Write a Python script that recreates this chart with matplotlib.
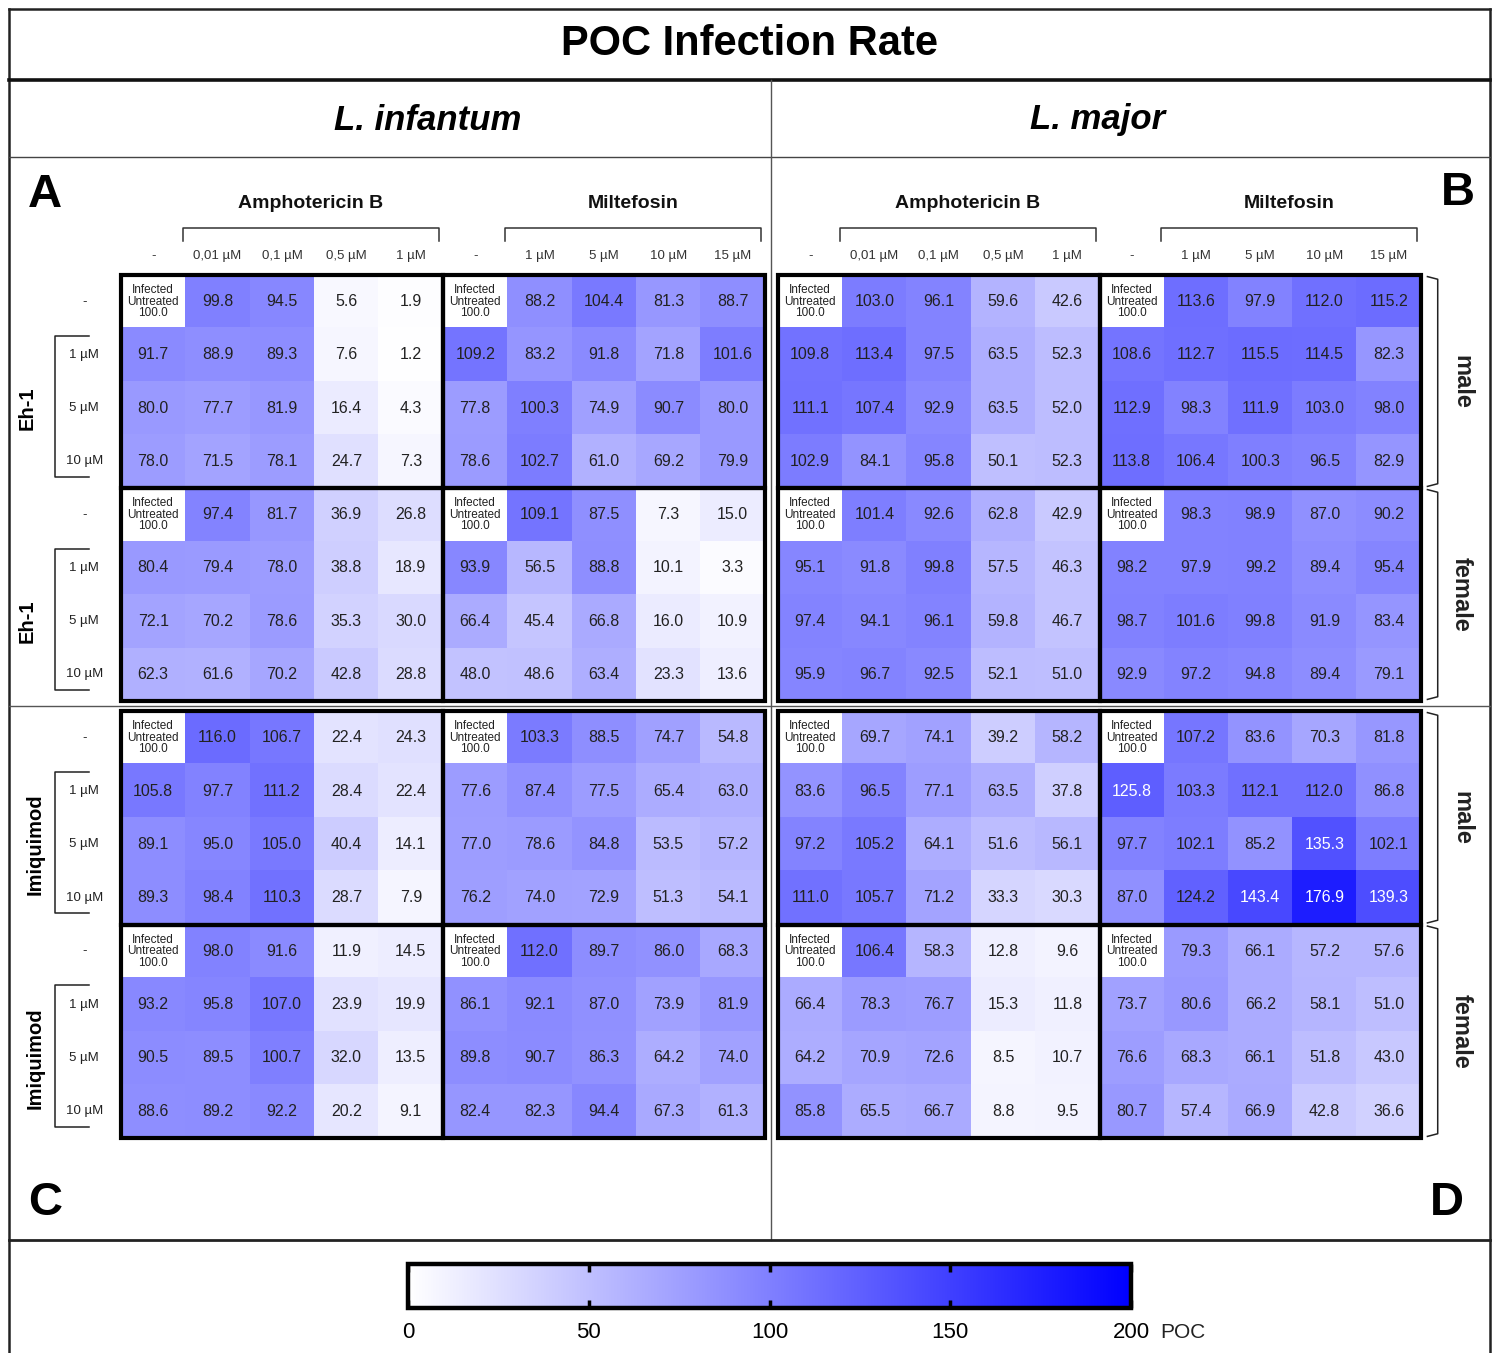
import numpy as np
import matplotlib
matplotlib.use("Agg")
import matplotlib.pyplot as plt
from matplotlib.colors import LinearSegmentedColormap, Normalize
from matplotlib.cm import ScalarMappable
from matplotlib.patches import Rectangle

plt.rcParams['font.family'] = ['Liberation Sans', 'DejaVu Sans']
NARROW = ['Liberation Sans Narrow', 'Liberation Sans']

# POC values, rows: -, 1 uM, 5 uM, 10 uM ; cols: Amphotericin B (5) + Miltefosin (5)
infantum_eh1_male = [
    [100.0, 99.8, 94.5, 5.6, 1.9, 100.0, 88.2, 104.4, 81.3, 88.7],
    [91.7, 88.9, 89.3, 7.6, 1.2, 109.2, 83.2, 91.8, 71.8, 101.6],
    [80.0, 77.7, 81.9, 16.4, 4.3, 77.8, 100.3, 74.9, 90.7, 80.0],
    [78.0, 71.5, 78.1, 24.7, 7.3, 78.6, 102.7, 61.0, 69.2, 79.9],
]
infantum_eh1_female = [
    [100.0, 97.4, 81.7, 36.9, 26.8, 100.0, 109.1, 87.5, 7.3, 15.0],
    [80.4, 79.4, 78.0, 38.8, 18.9, 93.9, 56.5, 88.8, 10.1, 3.3],
    [72.1, 70.2, 78.6, 35.3, 30.0, 66.4, 45.4, 66.8, 16.0, 10.9],
    [62.3, 61.6, 70.2, 42.8, 28.8, 48.0, 48.6, 63.4, 23.3, 13.6],
]
major_eh1_male = [
    [100.0, 103.0, 96.1, 59.6, 42.6, 100.0, 113.6, 97.9, 112.0, 115.2],
    [109.8, 113.4, 97.5, 63.5, 52.3, 108.6, 112.7, 115.5, 114.5, 82.3],
    [111.1, 107.4, 92.9, 63.5, 52.0, 112.9, 98.3, 111.9, 103.0, 98.0],
    [102.9, 84.1, 95.8, 50.1, 52.3, 113.8, 106.4, 100.3, 96.5, 82.9],
]
major_eh1_female = [
    [100.0, 101.4, 92.6, 62.8, 42.9, 100.0, 98.3, 98.9, 87.0, 90.2],
    [95.1, 91.8, 99.8, 57.5, 46.3, 98.2, 97.9, 99.2, 89.4, 95.4],
    [97.4, 94.1, 96.1, 59.8, 46.7, 98.7, 101.6, 99.8, 91.9, 83.4],
    [95.9, 96.7, 92.5, 52.1, 51.0, 92.9, 97.2, 94.8, 89.4, 79.1],
]
infantum_imq_male = [
    [100.0, 116.0, 106.7, 22.4, 24.3, 100.0, 103.3, 88.5, 74.7, 54.8],
    [105.8, 97.7, 111.2, 28.4, 22.4, 77.6, 87.4, 77.5, 65.4, 63.0],
    [89.1, 95.0, 105.0, 40.4, 14.1, 77.0, 78.6, 84.8, 53.5, 57.2],
    [89.3, 98.4, 110.3, 28.7, 7.9, 76.2, 74.0, 72.9, 51.3, 54.1],
]
infantum_imq_female = [
    [100.0, 98.0, 91.6, 11.9, 14.5, 100.0, 112.0, 89.7, 86.0, 68.3],
    [93.2, 95.8, 107.0, 23.9, 19.9, 86.1, 92.1, 87.0, 73.9, 81.9],
    [90.5, 89.5, 100.7, 32.0, 13.5, 89.8, 90.7, 86.3, 64.2, 74.0],
    [88.6, 89.2, 92.2, 20.2, 9.1, 82.4, 82.3, 94.4, 67.3, 61.3],
]
major_imq_male = [
    [100.0, 69.7, 74.1, 39.2, 58.2, 100.0, 107.2, 83.6, 70.3, 81.8],
    [83.6, 96.5, 77.1, 63.5, 37.8, 125.8, 103.3, 112.1, 112.0, 86.8],
    [97.2, 105.2, 64.1, 51.6, 56.1, 97.7, 102.1, 85.2, 135.3, 102.1],
    [111.0, 105.7, 71.2, 33.3, 30.3, 87.0, 124.2, 143.4, 176.9, 139.3],
]
major_imq_female = [
    [100.0, 106.4, 58.3, 12.8, 9.6, 100.0, 79.3, 66.1, 57.2, 57.6],
    [66.4, 78.3, 76.7, 15.3, 11.8, 73.7, 80.6, 66.2, 58.1, 51.0],
    [64.2, 70.9, 72.6, 8.5, 10.7, 76.6, 68.3, 66.1, 51.8, 43.0],
    [85.8, 65.5, 66.7, 8.8, 9.5, 80.7, 57.4, 66.9, 42.8, 36.6],
]

col_labels = ['-', '0,01 µM', '0,1 µM', '0,5 µM', '1 µM', '-', '1 µM', '5 µM', '10 µM', '15 µM']
row_labels = ['-', '1 µM', '5 µM', '10 µM']
drugs = ['Amphotericin B', 'Miltefosin']
cbar_ticks = [0, 50, 100, 150, 200]

W, H = 1496, 1353
cmap = LinearSegmentedColormap.from_list('poc', ['#ffffff', '#0000ff'])
cmap.set_bad('white')
norm = Normalize(0, 200)

fig = plt.figure(figsize=(W / 100, H / 100), dpi=100)
bg = fig.add_axes([0, 0, 1, 1])
bg.set_xlim(0, W)
bg.set_ylim(H, 0)
bg.axis('off')


def px_box(x0, y0, x1, y1):
    return [x0 / W, 1 - y1 / H, (x1 - x0) / W, (y1 - y0) / H]


# frame lines
bg.plot([9, 1490], [9, 9], color='#222', lw=1.8)
bg.plot([9, 9], [9, H], color='#222', lw=1.8)
bg.plot([1490, 1490], [9, H], color='#222', lw=1.8)
bg.plot([9, 1490], [80, 80], color='#111', lw=2.6)
bg.plot([9, 1490], [157, 157], color='#444', lw=1.0)
bg.plot([771, 771], [80, 1240], color='#555', lw=1.0)
bg.plot([9, 1490], [706, 706], color='#555', lw=1.0)
bg.plot([9, 1490], [1240, 1240], color='#222', lw=2.0)

bg.text(750, 44, 'POC Infection Rate', ha='center', va='center',
        fontsize=30, fontweight='bold')
bg.text(428, 120, 'L. infantum', ha='center', va='center',
        fontsize=25, fontweight='bold', style='italic')
bg.text(1098, 120, 'L. major', ha='center', va='center',
        fontsize=25, fontweight='bold', style='italic')

for letter, x, y in [('A', 45, 195), ('B', 1458, 193), ('C', 45, 1203), ('D', 1447, 1203)]:
    bg.text(x, y, letter, ha='center', va='center', fontsize=34, fontweight='bold')


def draw_panel(box, male, female, top=False, left_label=None, right_side=False):
    ax = fig.add_axes(px_box(*box))
    vals = np.vstack([male, female])
    ctrl = np.zeros(vals.shape, dtype=bool)
    ctrl[[0, 0, 4, 4], [0, 5, 0, 5]] = True
    ax.imshow(np.ma.masked_where(ctrl, vals), cmap=cmap, norm=norm,
              aspect='auto', interpolation='nearest')
    ax.set_axis_off()

    for i in range(vals.shape[0]):
        for j in range(vals.shape[1]):
            v = vals[i, j]
            if ctrl[i, j]:
                ax.text(j, i, 'Infected\nUntreated\n%.1f' % v, ha='center', va='center',
                        fontsize=8.5, family=NARROW, color='#222', linespacing=0.95)
            else:
                ax.text(j, i, '%.1f' % v, ha='center', va='center', fontsize=11.5,
                        color='white' if v > 125 else '#222')

    for r0 in (0, 4):
        for c0 in (0, 5):
            ax.add_patch(Rectangle((c0 - 0.5, r0 - 0.5), 5, 4, fill=False,
                                   ec='black', lw=3, clip_on=False, zorder=5))

    if top:
        for j, lab in enumerate(col_labels):
            ax.text(j, -0.86, lab, ha='center', va='center', fontsize=9.5, color='#333')
        for k, name in enumerate(drugs):
            x0, x1 = 0.46 + 5 * k, 4.44 + 5 * k
            ax.plot([x0, x0, x1, x1], [-1.14, -1.38, -1.38, -1.14], color='#333',
                    lw=1.1, clip_on=False)
            ax.text((x0 + x1) / 2, -1.84, name, ha='center', va='center',
                    fontsize=14, fontweight='bold', color='#111')

    if left_label is not None:
        for r0 in (0, 4):
            for i, lab in enumerate(row_labels):
                ax.text(-1.07, r0 + i, lab, ha='center', va='center', fontsize=9.5, color='#222')
            ax.plot([-1.0, -1.53, -1.53, -1.0], [r0 + 0.64, r0 + 0.64, r0 + 3.29, r0 + 3.29],
                    color='#222', lw=1.1, clip_on=False)
            ax.text(left_label[1], r0 + 2, left_label[0], ha='center', va='center',
                    rotation=90, fontsize=14.5, fontweight='bold')

    if right_side:
        for r0, sex in ((0, 'male'), (4, 'female')):
            y0, y1 = r0 - 0.47, r0 + 3.47
            ax.plot([9.6, 9.76, 9.76, 9.6], [y0, y0 + 0.05, y1 - 0.05, y1], color='#222',
                    lw=1.1, clip_on=False)
            ax.text(10.13, r0 + 1.5, sex, ha='center', va='center', rotation=-90,
                    fontsize=17, fontweight='bold', color='#222')

    # keep the grid filling the axes after the outside annotations
    ax.set_xlim(-0.5, 9.5)
    ax.set_ylim(7.5, -0.5)
    return ax


draw_panel((121, 275, 765, 701), infantum_eh1_male, infantum_eh1_female,
           top=True, left_label=('Eh-1', -1.96))
draw_panel((778, 275, 1421, 701), major_eh1_male, major_eh1_female,
           top=True, right_side=True)
draw_panel((121, 711, 765, 1138), infantum_imq_male, infantum_imq_female,
           left_label=('Imiquimod', -1.84))
draw_panel((778, 711, 1421, 1138), major_imq_male, major_imq_female,
           right_side=True)

# colour scale
cax = fig.add_axes(px_box(408, 1264, 1131, 1308))
cb = fig.colorbar(ScalarMappable(norm=norm, cmap=cmap), cax=cax, orientation='horizontal')
cb.set_ticks(cbar_ticks)
cb.outline.set_linewidth(3.2)
cax.tick_params(direction='in', length=6, width=2.5, top=True, bottom=True,
                labelsize=16, pad=10)
for t in cax.get_xticklabels():
    t.set_family(NARROW)
bg.text(1160, 1332, 'POC', ha='left', va='center', fontsize=15, family=NARROW, color='#222')

fig.savefig('out.png', dpi=100)
